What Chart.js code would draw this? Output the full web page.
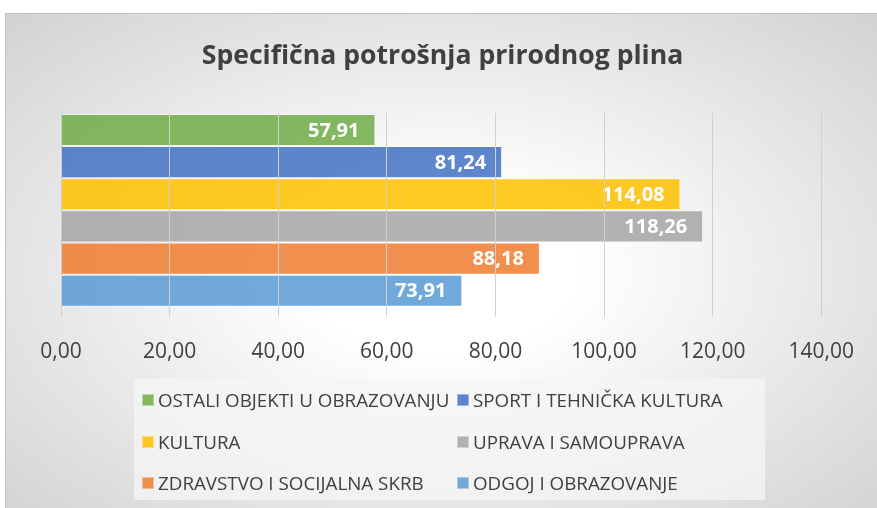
<!DOCTYPE html>
<html>
<head>
<meta charset="utf-8">
<script src="https://cdn.jsdelivr.net/npm/chart.js@4"></script>
<style>
  html, body { margin: 0; padding: 0; background: #fff; }
  #wrap {
    position: absolute; left: 5px; top: 13px; width: 872px; height: 495px;
    border-top: 1px solid #c4c4c4; border-left: 1px solid #c4c4c4;
    box-sizing: border-box;
    background: radial-gradient(ellipse at 50% 52%, #ffffff 22%, #d2d2d2 100%);
    font-family: "Open Sans", sans-serif;
  }
  #chart { position: absolute; left: 0; top: 0; }
  #legend {
    position: absolute; left: 128px; top: 365px; width: 631px; height: 121px;
    background: rgba(246, 246, 246, 0.75);
  }
  .item { position: absolute; display: flex; align-items: center; color: #404040; font-size: 18.8px; line-height: 22px; white-space: nowrap; }
  .item span.box { width: 12px; height: 12px; margin-right: 4px; box-sizing: border-box; border: 1px solid rgba(255,255,255,0.4); }
</style>
</head>
<body>
<div id="wrap">
  <canvas id="chart" width="871" height="494"></canvas>
  <div id="legend"></div>
</div>
<script>
const categories = [''];
const seriesNames = [
  'OSTALI OBJEKTI U OBRAZOVANJU',
  'SPORT I TEHNIČKA KULTURA',
  'KULTURA',
  'UPRAVA I SAMOUPRAVA',
  'ZDRAVSTVO I SOCIJALNA SKRB',
  'ODGOJ I OBRAZOVANJE'
];
const seriesValues = [57.91, 81.24, 114.08, 118.26, 88.18, 73.91];
const seriesColors = [
  'rgba(112, 173, 71, 0.86)',
  'rgba(68, 114, 196, 0.86)',
  'rgba(255, 192, 0, 0.86)',
  'rgba(165, 165, 165, 0.86)',
  'rgba(237, 125, 49, 0.86)',
  'rgba(91, 155, 213, 0.86)'
];
const tickValues = [0, 20, 40, 60, 80, 100, 120, 140];

const fmt = v => v.toFixed(2).replace('.', ',');

// natpisi vrijednosti unutar stupaca
const valueLabels = {
  id: 'valueLabels',
  afterDatasetsDraw(chart) {
    const ctx = chart.ctx;
    ctx.save();
    ctx.font = 'bold 20px "Open Sans"';
    ctx.fillStyle = '#ffffff';
    ctx.textAlign = 'right';
    ctx.textBaseline = 'middle';
    chart.data.datasets.forEach((ds, i) => {
      const bar = chart.getDatasetMeta(i).data[0];
      ctx.fillText(fmt(ds.data[0]), bar.x - 16, bar.y + 1);
    });
    ctx.restore();
  }
};

const chart = new Chart(document.getElementById('chart'), {
  type: 'bar',
  data: {
    labels: categories,
    datasets: seriesNames.map((name, i) => ({
      label: name,
      data: [seriesValues[i]],
      backgroundColor: seriesColors[i],
      borderColor: 'rgba(255,255,255,0.5)',
      borderWidth: 1,
      categoryPercentage: 0.99,
      barPercentage: 1
    }))
  },
  options: {
    indexAxis: 'y',
    responsive: false,
    animation: false,
    layout: { padding: { left: 55, right: 53, top: 0, bottom: 120 } },
    plugins: {
      legend: { display: false },
      tooltip: { enabled: false },
      title: {
        display: true,
        text: 'Specifična potrošnja prirodnog plina',
        color: '#404040',
        font: { family: 'Open Sans', size: 26.6, weight: 'bold' },
        padding: { top: 26, bottom: 41 }
      }
    },
    scales: {
      x: {
        min: 0, max: 140,
        afterBuildTicks: axis => { axis.ticks = tickValues.map(v => ({ value: v })); },
        grid: { color: '#cfcfcf', tickLength: 9, z: 1 },
        border: { display: false },
        ticks: {
          color: '#404040',
          font: { family: 'Open Sans', size: 21 },
          padding: 23,
          callback: v => fmt(v)
        }
      },
      y: { display: false }
    }
  },
  plugins: [valueLabels]
});

// legenda u dva stupca
const legend = document.getElementById('legend');
const colX = [8, 323];
const rowY = [21, 62.5, 104];
chart.data.datasets.forEach((ds, i) => {
  const el = document.createElement('div');
  el.className = 'item';
  el.style.left = colX[i % 2] + 'px';
  el.style.top = (rowY[Math.floor(i / 2)] - 11) + 'px';
  el.innerHTML = '<span class="box" style="background:' + ds.backgroundColor + '"></span>' + ds.label;
  legend.appendChild(el);
});
</script>
</body>
</html>
